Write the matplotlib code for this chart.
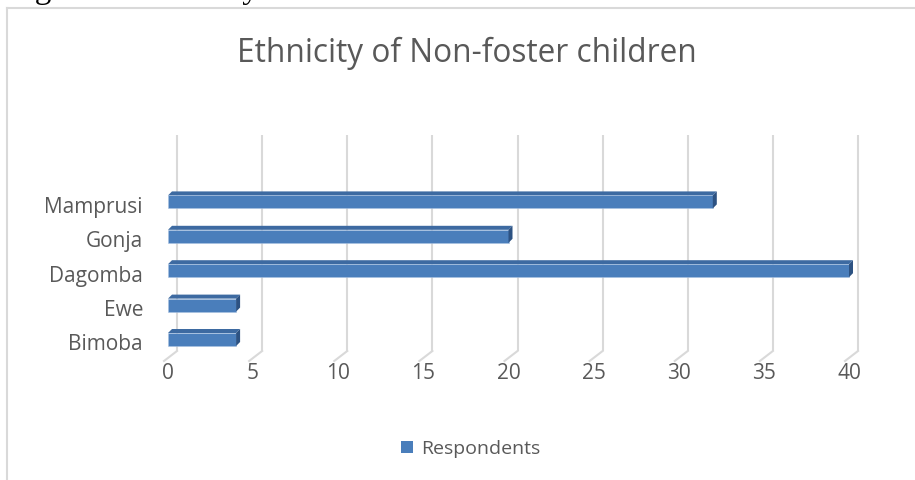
import matplotlib
matplotlib.use("Agg")
import matplotlib.pyplot as plt
from matplotlib.patches import Polygon, Rectangle
from matplotlib.lines import Line2D
from matplotlib.transforms import ScaledTranslation

# Data
categories = ["Bimoba", "Ewe", "Dagomba", "Gonja", "Mamprusi"]
respondents = [4, 4, 40, 20, 32]
x_ticks = [0, 5, 10, 15, 20, 25, 30, 35, 40]
title = "Ethnicity of Non-foster children"
series_name = "Respondents"
caption = "Figure 3: Ethnicity of Non-foster Children"

FRONT = "#4a7ebb"
TOP = "#3d6aa1"
SIDE = "#2d5282"
GRID = "#d9d9d9"
TEXT = "#595959"
FONT = ["Open Sans", "DejaVu Sans"]

W, H = 915, 480
fig = plt.figure(figsize=(W / 100, H / 100), dpi=100)
fig.patch.set_facecolor("white")

# chart frame (left and top edges)
fig.add_artist(Line2D([6.5 / W, 6.5 / W], [0, 1 - 7.5 / H], transform=fig.transFigure,
                      color=GRID, lw=1.5))
fig.add_artist(Line2D([6.5 / W, 1], [1 - 7.5 / H, 1 - 7.5 / H], transform=fig.transFigure,
                      color=GRID, lw=1.5))

# document caption running off the top edge
fig.text(7 / W, 1 + 2 / H, caption, family=["Liberation Serif", "DejaVu Serif"],
         fontsize=24, color="black", ha="left", va="baseline")

left_px, right_px = 168, 849
top_px, bottom_px = 135, 360
ymin, ymax = -0.596, 5.945
ax = fig.add_axes([left_px / W, 1 - bottom_px / H, (right_px - left_px) / W,
                   (bottom_px - top_px) / H])
ax.set_xlim(0, 40)
ax.set_ylim(ymin, ymax)
for s in ax.spines.values():
    s.set_visible(False)
ax.set_facecolor("none")

# pixel -> data unit conversions
px_x = 40 / (right_px - left_px)
px_y = (ymax - ymin) / (bottom_px - top_px)

# back-wall gridlines and floor diagonals
front_dx = -4 * px_x
wall_dx, wall_dy = 9 * px_x, 9 * px_y
for t in x_ticks:
    ax.plot([t + wall_dx, t + wall_dx], [ymin + wall_dy, ymax], color=GRID, lw=1.5,
            zorder=1, clip_on=False, solid_capstyle="butt")
    ax.plot([t + front_dx, t + wall_dx], [ymin - 1 * px_y, ymin + wall_dy], color=GRID,
            lw=1.5, zorder=1, clip_on=False)

# 3-D style bars: front face, top face and end face
bar_h = 13 * px_y
dx, dy = 4 * px_x, 4 * px_y
ypos = list(range(len(categories)))
bars = ax.barh(ypos, respondents, height=bar_h, color=FRONT, edgecolor="#a9c2e2",
               linewidth=0.4, zorder=3)
for b in bars:
    b.set_clip_on(False)
for y, v in zip(ypos, respondents):
    y0, y1 = y - bar_h / 2, y + bar_h / 2
    ax.add_patch(Polygon([(0, y1), (v, y1), (v + dx, y1 + dy), (dx, y1 + dy)],
                         closed=True, facecolor=TOP, edgecolor="none", zorder=2,
                         clip_on=False))
    ax.add_patch(Polygon([(v, y0), (v + dx, y0 + dy), (v + dx, y1 + dy), (v, y1)],
                         closed=True, facecolor=SIDE, edgecolor="none", zorder=4,
                         clip_on=False))

ax.set_xticks(x_ticks)
ax.set_xticklabels([str(t) for t in x_ticks])
ax.set_yticks(ypos)
ax.set_yticklabels(categories)
ax.tick_params(axis="both", length=0, colors=TEXT, labelsize=15)
ax.tick_params(axis="x", pad=2)
ax.tick_params(axis="y", pad=18)
shift = ScaledTranslation(0, -3 / 100, fig.dpi_scale_trans)
for lab in ax.get_yticklabels():
    lab.set_transform(lab.get_transform() + shift)
for lab in ax.get_xticklabels() + ax.get_yticklabels():
    lab.set_family(FONT)

fig.text(467 / W, 1 - 62 / H, title, family=FONT, fontsize=22.8, color=TEXT,
         ha="center", va="baseline")

# legend
fig.add_artist(Rectangle((401 / W, 1 - 453 / H), 12 / W, 12 / H,
                         transform=fig.transFigure, facecolor=FRONT, edgecolor="none"))
fig.text(421 / W, 1 - 454 / H, series_name, family=FONT, fontsize=14, color=TEXT,
         ha="left", va="baseline")

fig.savefig("out.png", dpi=100, facecolor="white")
